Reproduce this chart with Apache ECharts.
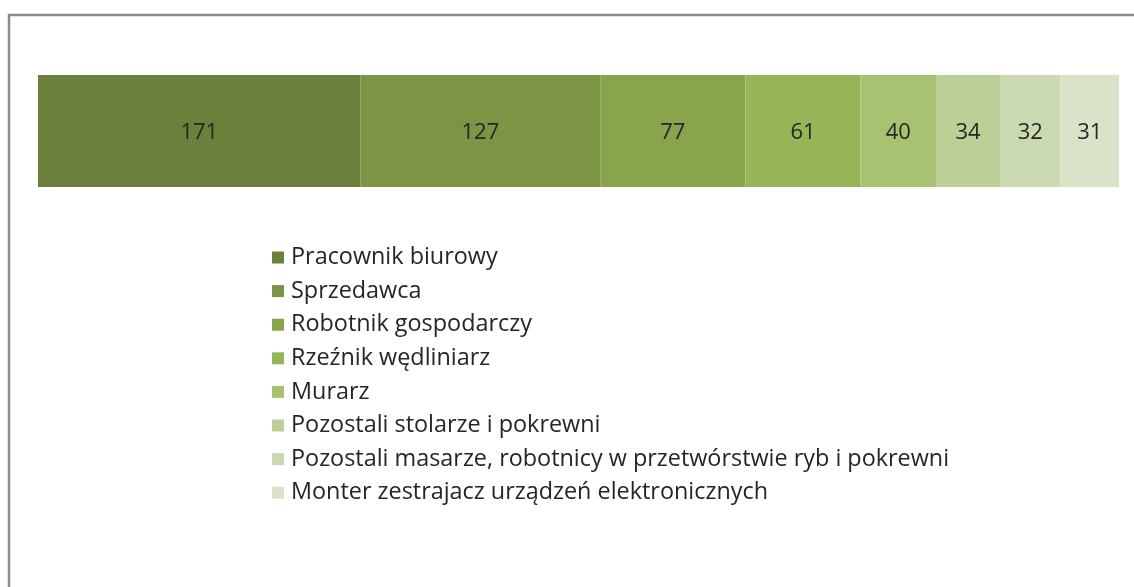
<!DOCTYPE html>
<html>
<head>
<meta charset="utf-8">
<script src="https://cdn.jsdelivr.net/npm/echarts@6/dist/echarts.min.js"></script>
<style>
  html, body { margin: 0; padding: 0; background: #fff; }
  #chart { width: 1134px; height: 587px; }
</style>
</head>
<body>
<div id="chart"></div>
<script>
var names = [
  "Pracownik biurowy",
  "Sprzedawca",
  "Robotnik gospodarczy",
  "Rzeźnik wędliniarz",
  "Murarz",
  "Pozostali stolarze i pokrewni",
  "Pozostali masarze, robotnicy w przetwórstwie ryb i pokrewni",
  "Monter zestrajacz urządzeń elektronicznych"
];
var values = [171, 127, 77, 61, 40, 34, 32, 31];
var colors = ["#6b813b", "#7b9545", "#88a54d", "#96b556", "#a7c271", "#bbcf96", "#cad9af", "#d9e3c8"];

var total = values.reduce(function (a, b) { return a + b; }, 0);

function init_chart(container) {
  var myChart = echarts.init(document.getElementById(container));

  var series = names.map(function (n, i) {
    return {
      name: n,
      type: "bar",
      stack: "all",
      barWidth: "100%",
      itemStyle: { color: colors[i], borderWidth: 0 },
      label: {
        show: true,
        position: "inside",
        offset: [0, 2],
        color: "#262626",
        fontSize: 22,
        fontFamily: "Open Sans",
      },
      data: [values[i]],
    };
  });

  var option = {
    animation: false,
    color: colors,
    graphic: [
      {
        type: "rect",
        shape: { x: 9, y: 15, width: 1140, height: 600 },
        style: { fill: "none", stroke: "#8c8c8c", lineWidth: 2.5 },
        silent: true,
      },
    ],
    legend: {
      orient: "vertical",
      left: 272,
      top: 246,
      padding: 0,
      itemWidth: 12,
      itemHeight: 12,
      itemGap: 10.6,
      icon: "rect",
      textStyle: {
        fontSize: 23.4,
        lineHeight: 20,
        color: "#262626",
        fontFamily: "Open Sans",
        padding: [0, 0, 0, 2],
      },
      data: names,
    },
    grid: { left: 38, right: 15, top: 75, height: 112 },
    xAxis: {
      type: "value",
      min: 0,
      max: total,
      show: false,
    },
    yAxis: {
      type: "category",
      data: [""],
      show: false,
    },
    series: series,
  };

  myChart.setOption(option);
}
init_chart("chart");
</script>
</body>
</html>
